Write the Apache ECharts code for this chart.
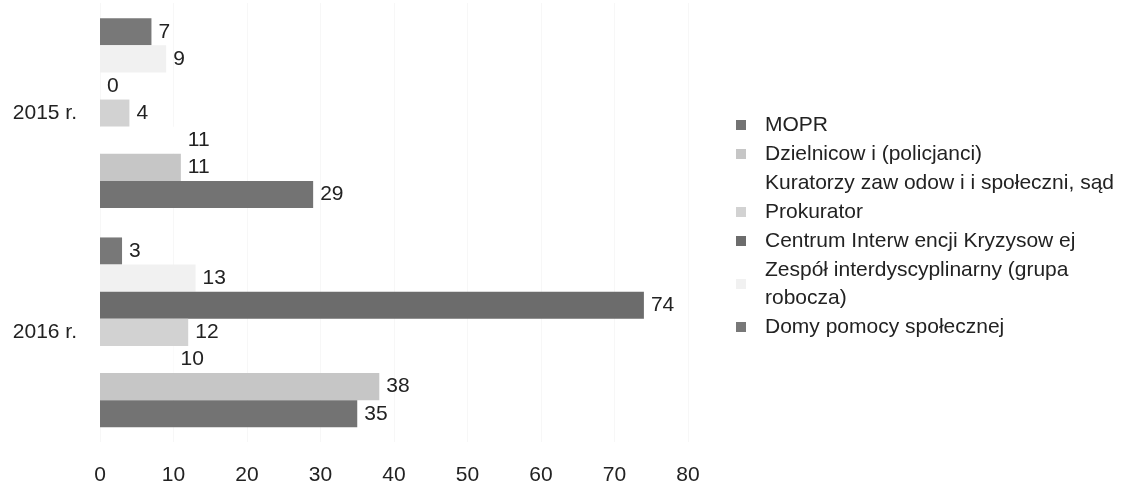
<!DOCTYPE html>
<html>
<head>
<meta charset="utf-8">
<script src="https://cdn.jsdelivr.net/npm/echarts@6/dist/echarts.min.js"></script>
<style>
html,body{margin:0;padding:0;background:#fff;}
#chart{width:1133px;height:486px;}
</style>
</head>
<body>
<div id="chart"></div>
<script>
// Categories (bottom to top as drawn by ECharts)
var categories = ['2016 r.', '2015 r.'];
// Series names (legend order, top to bottom)
var seriesNames = [
  'MOPR',
  'Dzielnicow i (policjanci)',
  'Kuratorzy zaw odow i i społeczni, sąd',
  'Prokurator',
  'Centrum Interw encji Kryzysow ej',
  'Zespół interdyscyplinarny (grupa\nrobocza)',
  'Domy pomocy społecznej'
];
// Values per series: [2016 r., 2015 r.]
var mopr = [35, 29];
var dzielnicowi = [38, 11];
var kuratorzy = [10, 11];
var prokurator = [12, 4];
var centrum = [74, 0];
var zespol = [13, 9];
var domy = [3, 7];
var xTicks = [0, 10, 20, 30, 40, 50, 60, 70, 80];

var values = [mopr, dzielnicowi, kuratorzy, prokurator, centrum, zespol, domy];
var colors = ['#737373', '#c6c6c6', '#ffffff', '#d2d2d2', '#6c6c6c', '#f1f1f1', '#787878'];
var FONT = "'Liberation Sans', Arial, sans-serif";

// series drawn in reverse so MOPR sits at the bottom of each group
var seriesList = [];
for (var i = seriesNames.length - 1; i >= 0; i--) {
  seriesList.push({
    name: seriesNames[i],
    type: 'bar',
    data: values[i],
    barGap: '0%',
    barCategoryGap: '13.4%',
    itemStyle: { color: colors[i] },
    label: {
      show: true,
      position: 'right',
      distance: 7,
      fontFamily: FONT,
      fontSize: 21,
      color: '#222'
    }
  });
}

var chart = echarts.init(document.getElementById('chart'));
chart.setOption({
  animation: false,
  backgroundColor: '#ffffff',
  textStyle: { fontFamily: FONT },
  grid: { left: 100, right: 445, top: 3.5, bottom: 43.5, containLabel: false },
  legend: {
    orient: 'vertical',
    left: 736,
    top: 111,
    padding: 0,
    itemGap: 1,
    itemWidth: 10,
    itemHeight: 10,
    icon: 'rect',
    data: seriesNames,
    textStyle: { fontFamily: FONT, fontSize: 21, color: '#222', lineHeight: 28, padding: [0, 0, 0, 14] }
  },
  xAxis: {
    type: 'value',
    min: xTicks[0],
    max: xTicks[xTicks.length - 1],
    interval: xTicks[1] - xTicks[0],
    axisLine: { show: false },
    axisTick: { show: false },
    splitLine: { show: true, lineStyle: { color: '#efefef', type: 'dotted', width: 1 } },
    axisLabel: { fontFamily: FONT, fontSize: 21, color: '#222', margin: 23 }
  },
  yAxis: {
    type: 'category',
    data: categories,
    axisLine: { show: false },
    axisTick: { show: false },
    axisLabel: { fontFamily: FONT, fontSize: 21, color: '#222', margin: 23 }
  },
  series: seriesList
});
</script>
</body>
</html>
